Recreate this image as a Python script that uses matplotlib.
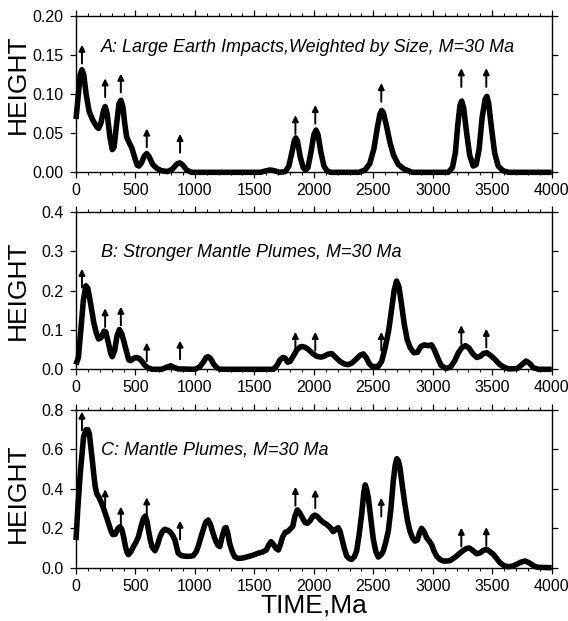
import matplotlib.pyplot as plt
from matplotlib.ticker import MultipleLocator

plt.rcParams['font.family'] = ['Liberation Sans', 'DejaVu Sans']

# time (Ma) of the events marked by arrows, same in every panel
arrow_age = [50, 245, 377, 595, 875, 1845, 2012, 2567, 3240, 3450]

# panel A: large earth impacts weighted by size
a_age = [0, 20, 35, 50, 65, 85, 110, 140, 175, 190, 210, 230, 245, 262, 285, 305, 320, 340,
         362, 378, 395, 410, 426, 450, 470, 495, 515, 530, 550, 575, 594, 615, 645, 680,
         720, 770, 810, 850, 874, 900, 930, 970, 1550, 1600, 1635, 1670, 1710, 1760, 1790,
         1815, 1835, 1848, 1862, 1885, 1910, 1930, 1950, 1975, 2000, 2018, 2035, 2060, 2085,
         2110, 2140, 2380, 2430, 2470, 2505, 2535, 2555, 2570, 2585, 2610, 2640, 2670, 2710,
         2760, 2830, 3130, 3165, 3190, 3210, 3228, 3243, 3260, 3285, 3310, 3340, 3365, 3390,
         3415, 3440, 3455, 3470, 3495, 3520, 3550, 3590, 3640, 4000]
a_height = [0.068, 0.100, 0.125, 0.131, 0.125, 0.100, 0.078, 0.067, 0.058, 0.056, 0.063, 0.078,
            0.084, 0.075, 0.045, 0.029, 0.032, 0.060, 0.088, 0.092, 0.083, 0.062, 0.045, 0.037,
            0.031, 0.018, 0.009, 0.008, 0.012, 0.021, 0.024, 0.020, 0.010, 0.005, 0.002, 0.001,
            0.004, 0.011, 0.012, 0.009, 0.003, 0.000, 0.000, 0.002, 0.003, 0.002, 0.000, 0.001,
            0.008, 0.025, 0.040, 0.044, 0.040, 0.020, 0.006, 0.003, 0.006, 0.025, 0.048, 0.054,
            0.048, 0.025, 0.008, 0.002, 0.000, 0.000, 0.003, 0.011, 0.030, 0.058, 0.074, 0.079,
            0.076, 0.060, 0.038, 0.022, 0.010, 0.004, 0.000, 0.000, 0.006, 0.025, 0.060, 0.085,
            0.091, 0.082, 0.050, 0.022, 0.008, 0.010, 0.030, 0.070, 0.093, 0.097, 0.088, 0.055,
            0.025, 0.008, 0.002, 0.000, 0.000]
a_arrow_tip = [0.163, 0.120, 0.126, 0.056, 0.049, 0.073, 0.086, 0.114, 0.133, 0.133]

# panel B: stronger mantle plumes
b_age = [0, 20, 42, 62, 83, 100, 125, 150, 170, 190, 210, 236, 250, 270, 292, 305, 325, 345,
         365, 385, 405, 420, 444, 460, 485, 508, 530, 555, 580, 603, 640, 720, 760, 797, 830,
         860, 1000, 1040, 1070, 1095, 1111, 1130, 1160, 1185, 1210, 1660, 1690, 1715, 1740,
         1760, 1780, 1800, 1830, 1855, 1880, 1900, 1925, 1955, 1990, 2025, 2060, 2085, 2115,
         2150, 2185, 2220, 2260, 2290, 2320, 2350, 2390, 2416, 2440, 2465, 2490, 2540, 2570,
         2600, 2630, 2655, 2675, 2695, 2715, 2735, 2760, 2785, 2810, 2840, 2870, 2900, 2930,
         2960, 2990, 3015, 3040, 3070, 3110, 3150, 3185, 3215, 3245, 3275, 3305, 3335, 3370,
         3400, 3425, 3455, 3490, 3520, 3560, 3600, 3640, 3710, 3750, 3785, 3815, 3845, 3890,
         4000]
b_height = [0.012, 0.030, 0.104, 0.175, 0.212, 0.205, 0.163, 0.118, 0.093, 0.077, 0.080, 0.097,
            0.095, 0.070, 0.040, 0.032, 0.048, 0.085, 0.101, 0.090, 0.068, 0.050, 0.024, 0.022,
            0.028, 0.030, 0.028, 0.020, 0.010, 0.004, 0.000, 0.000, 0.005, 0.009, 0.004, 0.001,
            0.000, 0.006, 0.018, 0.030, 0.032, 0.028, 0.012, 0.004, 0.000, 0.000, 0.010, 0.024,
            0.030, 0.028, 0.018, 0.020, 0.035, 0.048, 0.056, 0.058, 0.056, 0.050, 0.040, 0.033,
            0.031, 0.033, 0.038, 0.040, 0.030, 0.020, 0.013, 0.012, 0.016, 0.024, 0.036, 0.039,
            0.030, 0.015, 0.007, 0.007, 0.020, 0.055, 0.100, 0.155, 0.200, 0.224, 0.210, 0.170,
            0.115, 0.075, 0.055, 0.042, 0.043, 0.058, 0.062, 0.060, 0.062, 0.048, 0.030, 0.010,
            0.002, 0.006, 0.022, 0.042, 0.055, 0.060, 0.054, 0.040, 0.030, 0.033, 0.040, 0.042,
            0.034, 0.026, 0.013, 0.005, 0.001, 0.002, 0.012, 0.021, 0.015, 0.004, 0.000, 0.000]
b_arrow_tip = [0.255, 0.155, 0.159, 0.068, 0.073, 0.095, 0.095, 0.095, 0.112, 0.103]

# panel C: mantle plumes
c_age = [0, 15, 36, 64, 85, 100, 112, 134, 150, 162, 175, 190, 210, 232, 255, 274, 295, 310,
         330, 350, 370, 385, 400, 415, 427, 441, 460, 483, 505, 525, 545, 567, 583, 597, 609,
         625, 640, 664, 685, 706, 728, 748, 770, 790, 812, 832, 848, 860, 888, 920, 960, 985,
         1010, 1027, 1048, 1069, 1090, 1111, 1130, 1153, 1175, 1195, 1209, 1230, 1250, 1262,
         1278, 1292, 1315, 1334, 1362, 1400, 1445, 1490, 1529, 1570, 1600, 1620, 1640, 1660,
         1682, 1702, 1720, 1738, 1760, 1780, 1799, 1823, 1840, 1861, 1880, 1900, 1925, 1945,
         1967, 1990, 2009, 2030, 2051, 2080, 2107, 2135, 2163, 2185, 2205, 2220, 2234, 2255,
         2276, 2300, 2318, 2340, 2360, 2380, 2402, 2420, 2432, 2445, 2458, 2480, 2500, 2522,
         2542, 2565, 2584, 2605, 2626, 2648, 2668, 2684, 2698, 2712, 2724, 2745, 2766, 2787,
         2808, 2830, 2850, 2870, 2890, 2906, 2925, 2948, 2970, 2990, 3010, 3032, 3060, 3088,
         3120, 3145, 3175, 3200, 3230, 3257, 3285, 3307, 3335, 3369, 3397, 3425, 3453, 3480,
         3509, 3540, 3565, 3600, 3635, 3670, 3705, 3740, 3775, 3800, 3831, 3860, 3887, 4000]
c_height = [0.14, 0.30, 0.48, 0.665, 0.70, 0.70, 0.68, 0.563, 0.47, 0.41, 0.375, 0.36, 0.335,
            0.30, 0.26, 0.225, 0.185, 0.168, 0.170, 0.197, 0.208, 0.195, 0.157, 0.11, 0.081,
            0.066, 0.080, 0.107, 0.130, 0.157, 0.205, 0.250, 0.262, 0.235, 0.191, 0.140, 0.105,
            0.086, 0.115, 0.157, 0.185, 0.195, 0.190, 0.183, 0.165, 0.14, 0.10, 0.073, 0.061,
            0.058, 0.058, 0.061, 0.080, 0.107, 0.15, 0.191, 0.230, 0.242, 0.220, 0.174, 0.135,
            0.113, 0.107, 0.160, 0.200, 0.204, 0.170, 0.123, 0.080, 0.056, 0.047, 0.049, 0.056,
            0.064, 0.073, 0.080, 0.090, 0.115, 0.132, 0.118, 0.098, 0.090, 0.12, 0.157, 0.180,
            0.183, 0.195, 0.21, 0.26, 0.293, 0.28, 0.258, 0.230, 0.225, 0.237, 0.260, 0.267,
            0.260, 0.245, 0.230, 0.220, 0.205, 0.183, 0.195, 0.203, 0.185, 0.152, 0.100, 0.059,
            0.045, 0.042, 0.055, 0.085, 0.165, 0.270, 0.380, 0.420, 0.395, 0.355, 0.245, 0.144,
            0.080, 0.054, 0.065, 0.085, 0.130, 0.186, 0.300, 0.440, 0.520, 0.553, 0.540, 0.507,
            0.410, 0.320, 0.240, 0.186, 0.150, 0.135, 0.140, 0.180, 0.200, 0.185, 0.152, 0.135,
            0.118, 0.085, 0.059, 0.042, 0.034, 0.034, 0.036, 0.048, 0.059, 0.075, 0.088, 0.098,
            0.100, 0.088, 0.071, 0.075, 0.088, 0.093, 0.082, 0.068, 0.045, 0.025, 0.010, 0.005,
            0.008, 0.017, 0.028, 0.034, 0.028, 0.017, 0.006, 0.002, 0.000]
c_arrow_tip = [0.792, 0.398, 0.310, 0.357, 0.239, 0.410, 0.397, 0.355, 0.203, 0.206]

titles = ['A: Large Earth Impacts,Weighted by Size, M=30 Ma',
          'B: Stronger Mantle Plumes, M=30 Ma',
          'C: Mantle Plumes, M=30 Ma']


def draw_panel(ax, age, height, tips, ymax, ystep, yfmt, title, title_y, label_y=0.5):
    ax.plot(age, height, color='black', lw=4.0, solid_joinstyle='round',
            solid_capstyle='butt', clip_on=False, zorder=3)
    for x, tip in zip(arrow_age, tips):
        ax.annotate('', xy=(x, tip), xytext=(0, -13.5), textcoords='offset points',
                    arrowprops=dict(arrowstyle='-|>', color='black', lw=1.4,
                                    mutation_scale=9, shrinkA=0, shrinkB=0))
    ax.set_xlim(0, 4000)
    ax.set_ylim(0, ymax)
    ax.xaxis.set_major_locator(MultipleLocator(500))
    ax.xaxis.set_minor_locator(MultipleLocator(100))
    ax.yaxis.set_major_locator(MultipleLocator(ystep))
    ax.yaxis.set_major_formatter(yfmt)
    ax.tick_params(which='major', direction='out', length=4, width=0.9,
                   top=True, right=True, labelright=False, labeltop=False)
    ax.tick_params(which='minor', direction='out', length=2.2, width=0.8, top=True)
    ax.tick_params(axis='x', labelsize=11.5, pad=4)
    ax.tick_params(axis='y', labelsize=11.5, pad=5)
    for sp in ax.spines.values():
        sp.set_linewidth(1.0)
    ax.text(0.052, title_y, title, transform=ax.transAxes, fontsize=13,
            style='italic', va='center', ha='left')
    ax.set_ylabel('HEIGHT', fontsize=19)
    ax.yaxis.set_label_coords(-0.097, label_y)


fig = plt.figure(figsize=(5.68, 6.21), dpi=100)
ax_a = fig.add_axes([0.1338, 0.7225, 0.8375, 0.2522])
ax_b = fig.add_axes([0.1338, 0.4053, 0.8375, 0.2538])
ax_c = fig.add_axes([0.1338, 0.0858, 0.8375, 0.2540])

draw_panel(ax_a, a_age, a_height, a_arrow_tip, 0.20, 0.05, '{x:.2f}', titles[0], 0.80, 0.56)
draw_panel(ax_b, b_age, b_height, b_arrow_tip, 0.4, 0.1, '{x:.1f}', titles[1], 0.74)
draw_panel(ax_c, c_age, c_height, c_arrow_tip, 0.8, 0.2, '{x:.1f}', titles[2], 0.745, 0.47)

ax_c.set_xlabel('TIME,Ma', fontsize=19, labelpad=0)

fig.savefig('out.png', dpi=100)
